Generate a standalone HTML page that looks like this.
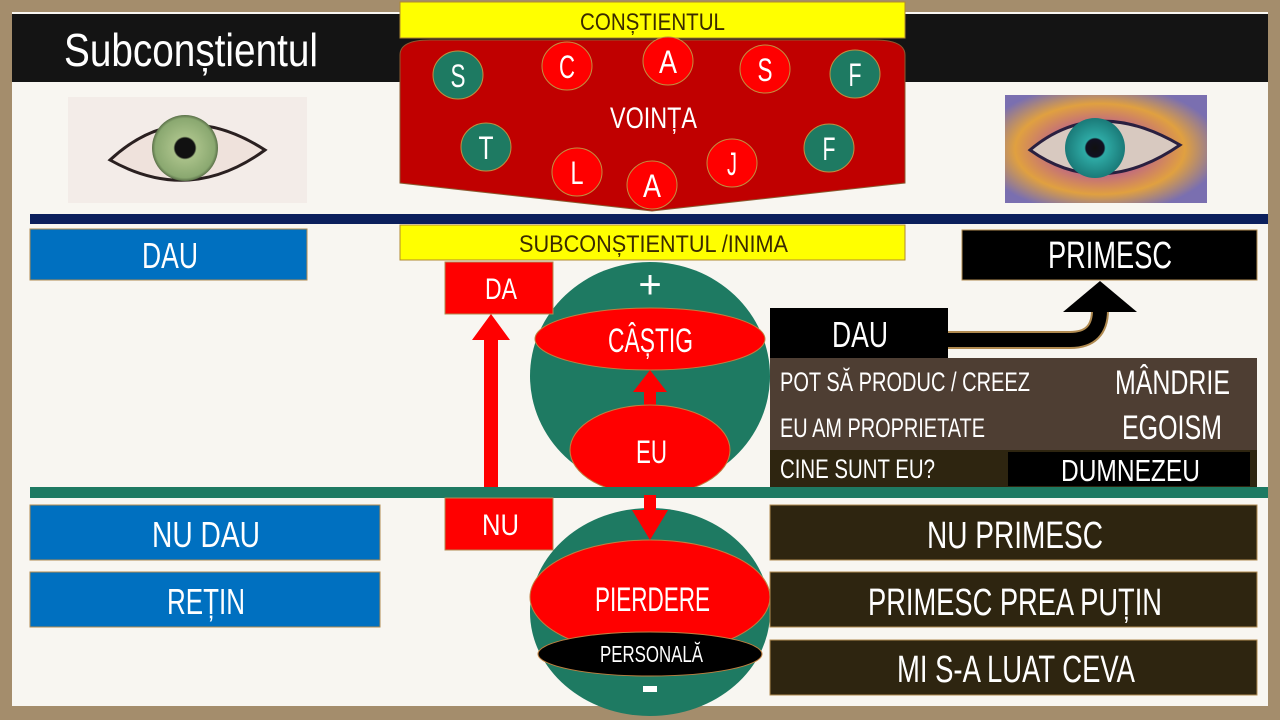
<!DOCTYPE html>
<html><head><meta charset="utf-8"><style>
body{margin:0;width:1280px;height:720px;overflow:hidden;background:#a48d6c;}
svg{display:block}
text{font-family:"Liberation Sans Narrow","Liberation Sans",sans-serif;}
</style></head><body>
<svg width="1280" height="720" viewBox="0 0 1280 720" xmlns="http://www.w3.org/2000/svg">
<defs>
<radialGradient id="iris1"><stop offset="0" stop-color="#111"/><stop offset="0.3" stop-color="#111"/><stop offset="0.35" stop-color="#a8c088"/><stop offset="0.9" stop-color="#8aa870"/><stop offset="1" stop-color="#5a7048"/></radialGradient>
<radialGradient id="iris2"><stop offset="0" stop-color="#111"/><stop offset="0.3" stop-color="#112"/><stop offset="0.35" stop-color="#2eaaa5"/><stop offset="1" stop-color="#1a7a78"/></radialGradient>
<radialGradient id="eye2" cx="0.47" cy="0.5" r="0.6"><stop offset="0" stop-color="#d8c9c0"/><stop offset="0.4" stop-color="#c06a80"/><stop offset="0.7" stop-color="#e0a040"/><stop offset="1" stop-color="#7a6fb0"/></radialGradient>
</defs>
<rect x="12" y="12" width="1256" height="694" fill="#f8f6f1"/>
<rect x="12" y="14" width="1256" height="68" fill="#141414"/>
<text x="64" y="66" font-size="46" fill="#fff" textLength="254" lengthAdjust="spacingAndGlyphs">Subconștientul</text>
<rect x="68" y="97" width="239" height="106" fill="#f3ece8"/>
<path d="M110 160 Q180 95 265 150 Q190 205 110 160 Z" fill="#efe2dc" stroke="#2a2020" stroke-width="3"/>
<circle cx="185" cy="148" r="33" fill="url(#iris1)"/>
<rect x="1005" y="95" width="202" height="108" fill="url(#eye2)"/>
<path d="M1030 150 Q1095 95 1180 145 Q1100 200 1030 150 Z" fill="#d8c9c0" stroke="#2a2040" stroke-width="3"/>
<circle cx="1095" cy="148" r="30" fill="url(#iris2)"/>
<rect x="400" y="2" width="505" height="36" fill="#ffff00" stroke="#b08a30"/>
<text x="580" y="30" font-size="24" fill="#3a2a00" textLength="145" lengthAdjust="spacingAndGlyphs">CONȘTIENTUL</text>
<path d="M400 55 Q400 40 430 40 L875 40 Q905 40 905 55 L905 183 L652 211 L400 183 Z" fill="#c00000" stroke="#8a5a30"/>
<text x="610" y="128" font-size="30" fill="#fff" textLength="87" lengthAdjust="spacingAndGlyphs">VOINȚA</text>
<g stroke="#c09040" stroke-width="1">
<ellipse cx="458" cy="75" rx="25" ry="24" fill="#1e7a62"/>
<ellipse cx="567" cy="66" rx="25" ry="24" fill="#ff0000"/>
<ellipse cx="668" cy="61" rx="25" ry="24" fill="#ff0000"/>
<ellipse cx="765" cy="69" rx="25" ry="24" fill="#ff0000"/>
<ellipse cx="855" cy="74" rx="25" ry="24" fill="#1e7a62"/>
<ellipse cx="486" cy="147" rx="25" ry="24" fill="#1e7a62"/>
<ellipse cx="577" cy="172" rx="25" ry="24" fill="#ff0000"/>
<ellipse cx="652" cy="185" rx="25" ry="24" fill="#ff0000"/>
<ellipse cx="732" cy="163" rx="25" ry="24" fill="#ff0000"/>
<ellipse cx="829" cy="148" rx="25" ry="24" fill="#1e7a62"/>
</g>
<g font-size="32" text-anchor="middle" fill="#fff">
<text x="458" y="87" textLength="15" lengthAdjust="spacingAndGlyphs">S</text><text x="567" y="78" textLength="16" lengthAdjust="spacingAndGlyphs">C</text><text x="668" y="73" textLength="18" lengthAdjust="spacingAndGlyphs">A</text><text x="765" y="81" textLength="15" lengthAdjust="spacingAndGlyphs">S</text><text x="855" y="86" textLength="13" lengthAdjust="spacingAndGlyphs">F</text>
<text x="486" y="159" textLength="15" lengthAdjust="spacingAndGlyphs">T</text><text x="577" y="184" textLength="13" lengthAdjust="spacingAndGlyphs">L</text><text x="652" y="197" textLength="18" lengthAdjust="spacingAndGlyphs">A</text><text x="732" y="175" textLength="10" lengthAdjust="spacingAndGlyphs">J</text><text x="829" y="160" textLength="13" lengthAdjust="spacingAndGlyphs">F</text>
</g>
<rect x="30" y="214" width="1238" height="10" fill="#0b1f5c"/>
<rect x="30" y="229" width="277" height="51" fill="#0070c0" stroke="#b08a50"/>
<text x="142" y="268" font-size="36" fill="#fff" textLength="56" lengthAdjust="spacingAndGlyphs">DAU</text>
<rect x="400" y="225" width="505" height="35" fill="#ffff00" stroke="#b08a30"/>
<text x="519" y="252" font-size="24" fill="#3a2a00" textLength="269" lengthAdjust="spacingAndGlyphs">SUBCONȘTIENTUL /INIMA</text>
<rect x="962" y="230" width="295" height="50" fill="#000" stroke="#b08a50"/>
<text x="1048" y="268" font-size="38" fill="#fff" textLength="124" lengthAdjust="spacingAndGlyphs">PRIMESC</text>
<ellipse cx="650" cy="376" rx="120" ry="114" fill="#1e7a62"/>
<text x="650" y="298" font-size="40" fill="#fff" text-anchor="middle">+</text>
<rect x="445" y="262" width="108" height="52" fill="#ff0000" stroke="#b08a50"/>
<text x="485" y="299" font-size="30" fill="#fff" textLength="32" lengthAdjust="spacingAndGlyphs">DA</text>
<ellipse cx="650" cy="339" rx="115" ry="31" fill="#ff0000" stroke="#c08040"/>
<text x="608" y="352" font-size="34" fill="#fff" textLength="85" lengthAdjust="spacingAndGlyphs">CÂȘTIG</text>
<polygon points="644,410 644,392 633,392 650,370 667,392 656,392 656,410" fill="#ff0000"/>
<ellipse cx="650" cy="450" rx="80" ry="45" fill="#ff0000" stroke="#c08040"/>
<text x="636" y="463" font-size="32" fill="#fff" textLength="31" lengthAdjust="spacingAndGlyphs">EU</text>
<polygon points="484,498 484,340 472,340 491,314 510,340 498,340 498,498" fill="#ff0000"/>
<rect x="770" y="358" width="487" height="92" fill="#4e3e33"/>
<rect x="770" y="450" width="487" height="37" fill="#2e2510"/>
<rect x="1008" y="452" width="242" height="34" fill="#000"/>
<g font-size="27" fill="#fff">
<text x="780" y="391" textLength="250" lengthAdjust="spacingAndGlyphs">POT SĂ PRODUC / CREEZ</text>
<text x="780" y="437" textLength="205" lengthAdjust="spacingAndGlyphs">EU AM PROPRIETATE</text>
<text x="780" y="478" textLength="155" lengthAdjust="spacingAndGlyphs">CINE SUNT EU?</text>
</g>
<g font-size="34" fill="#fff">
<text x="1115" y="394" textLength="115" lengthAdjust="spacingAndGlyphs">MÂNDRIE</text>
<text x="1122" y="439" textLength="100" lengthAdjust="spacingAndGlyphs">EGOISM</text>
<text x="1061" y="481" font-size="31" textLength="139" lengthAdjust="spacingAndGlyphs">DUMNEZEU</text>
</g>
<rect x="770" y="308" width="178" height="50" fill="#000"/>
<text x="832" y="347" font-size="36" fill="#fff" textLength="56" lengthAdjust="spacingAndGlyphs">DAU</text>
<path d="M948 340 L1070 340 Q1100 340 1100 310 L1100 300" fill="none" stroke="#b08a50" stroke-width="18"/>
<path d="M948 340 L1070 340 Q1100 340 1100 310 L1100 300" fill="none" stroke="#000" stroke-width="14"/>
<polygon points="1063,312 1100,281 1137,312" fill="#000"/>
<rect x="30" y="487" width="1238" height="11" fill="#1e7a62"/>
<rect x="30" y="505" width="350" height="55" fill="#0070c0" stroke="#b08a50"/>
<text x="152" y="547" font-size="36" fill="#fff" textLength="108" lengthAdjust="spacingAndGlyphs">NU DAU</text>
<rect x="30" y="572" width="350" height="55" fill="#0070c0" stroke="#b08a50"/>
<text x="167" y="614" font-size="36" fill="#fff" textLength="78" lengthAdjust="spacingAndGlyphs">REȚIN</text>
<rect x="445" y="498" width="108" height="52" fill="#ff0000" stroke="#b08a50"/>
<text x="482" y="535" font-size="30" fill="#fff" textLength="37" lengthAdjust="spacingAndGlyphs">NU</text>
<ellipse cx="650" cy="612" rx="120" ry="104" fill="#1e7a62"/>
<ellipse cx="650" cy="597" rx="120" ry="57" fill="#ff0000" stroke="#c08040"/>
<text x="595" y="611" font-size="34" fill="#fff" textLength="115" lengthAdjust="spacingAndGlyphs">PIERDERE</text>
<ellipse cx="650" cy="654" rx="112" ry="22" fill="#000" stroke="#c08040"/>
<text x="600" y="662" font-size="23" fill="#fff" textLength="103" lengthAdjust="spacingAndGlyphs">PERSONALĂ</text>
<rect x="643" y="686" width="14" height="6" fill="#fff"/>
<polygon points="644,495 644,510 632,510 650,540 668,510 656,510 656,495" fill="#ff0000"/>
<g fill="#2e2510" stroke="#b08a50">
<rect x="770" y="505" width="487" height="55"/>
<rect x="770" y="572" width="487" height="55"/>
<rect x="770" y="640" width="487" height="55"/>
</g>
<g font-size="38" fill="#fff">
<text x="927" y="548" textLength="176" lengthAdjust="spacingAndGlyphs">NU PRIMESC</text>
<text x="868" y="615" textLength="294" lengthAdjust="spacingAndGlyphs">PRIMESC PREA PUȚIN</text>
<text x="897" y="682" textLength="238" lengthAdjust="spacingAndGlyphs">MI S-A LUAT CEVA</text>
</g>
</svg>
</body></html>
